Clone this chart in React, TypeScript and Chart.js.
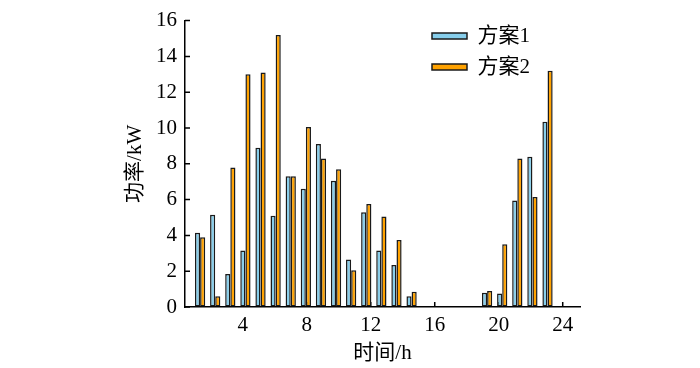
import React, { useEffect, useRef } from 'react';
import { Chart, registerables } from 'chart.js';

Chart.register(...registerables);

// ---- data ----
const hours = [1, 2, 3, 4, 5, 6, 7, 8, 9, 10, 11, 12, 13, 14, 15, 16, 17, 18, 19, 20, 21, 22, 23, 24];
const plan1 = [4.15, 5.15, 1.85, 3.15, 8.9, 5.1, 7.3, 6.6, 9.1, 7.05, 2.65, 5.3, 3.15, 2.35, 0.6, 0, 0, 0, 0, 0.8, 0.75, 5.95, 8.4, 10.35];
const plan2 = [3.9, 0.6, 7.8, 13.0, 13.1, 15.2, 7.3, 10.05, 8.3, 7.7, 2.05, 5.75, 5.05, 3.75, 0.85, 0, 0, 0, 0, 0.9, 3.5, 8.3, 6.15, 13.2];
const seriesNames = ['方案1', '方案2'];
const xTickValues = [4, 8, 12, 16, 20, 24];
const yTickStep = 2;
const yMax = 16;
const xTitle = '时间/h';
const yTitle = '功率/kW';

const FONT = '"Liberation Serif", "Noto Sans CJK SC", serif';
const BLUE = '#87CEEB';
const ORANGE = '#FFA200';
const EDGE = '#1a1a1a';

const innerTicks = {
  id: 'innerTicks',
  beforeDatasetsDraw(chart: any) {
    const ctx = chart.ctx;
    const y = chart.scales.y;
    const xt = chart.scales.xt;
    ctx.save();
    ctx.strokeStyle = '#000';
    ctx.lineWidth = 1.5;
    ctx.beginPath();
    y.ticks.forEach((t: any) => {
      const py = y.getPixelForValue(t.value);
      ctx.moveTo(y.right, py);
      ctx.lineTo(y.right + 5, py);
    });
    xt.ticks.forEach((t: any) => {
      const px = xt.getPixelForValue(t.value);
      ctx.moveTo(px, xt.top);
      ctx.lineTo(px, xt.top - 5);
    });
    ctx.stroke();
    ctx.restore();
  },
};

const placeLegend = {
  id: 'placeLegend',
  afterLayout(chart: any) {
    const lg = chart.legend;
    if (!lg) return;
    const w = lg.width;
    const h = lg.height;
    lg.left = chart.chartArea.right - 158;
    lg.top = chart.chartArea.top - 5;
    lg.right = lg.left + w;
    lg.bottom = lg.top + h;
  },
};

export default function App() {
  const ref = useRef<HTMLCanvasElement>(null);

  useEffect(() => {
    if (!ref.current) return;
    Chart.defaults.font.family = FONT;
    Chart.defaults.color = '#000';
    const chart = new Chart(ref.current, {
      type: 'bar',
      data: {
        datasets: [
          {
            label: seriesNames[0],
            data: hours.map((h, i) => ({ x: h, y: plan1[i] })),
            backgroundColor: BLUE,
            borderColor: EDGE,
            borderWidth: 1.5,
            borderSkipped: false,
            categoryPercentage: 0.68,
            barPercentage: 1,
            xAxisID: 'x',
            yAxisID: 'y',
          },
          {
            label: seriesNames[1],
            data: hours.map((h, i) => ({ x: h, y: plan2[i] })),
            backgroundColor: ORANGE,
            borderColor: EDGE,
            borderWidth: 1.5,
            borderSkipped: false,
            categoryPercentage: 0.68,
            barPercentage: 1,
            xAxisID: 'x',
            yAxisID: 'y',
          },
        ],
      },
      options: {
        responsive: false,
        animation: false,
        layout: { padding: { left: 117, right: 120, top: 13, bottom: 0 } },
        plugins: {
          tooltip: { enabled: false },
          legend: {
            position: 'chartArea',
            align: 'start',
            labels: {
              boxWidth: 35,
              boxHeight: 6,
              padding: 10,
              font: { size: 21, family: FONT },
              color: '#000',
            },
          },
        },
        scales: {
          x: {
            type: 'linear',
            display: false,
            min: 0,
            max: 26.15,
            offset: false,
          },
          xt: {
            type: 'linear',
            position: 'bottom',
            min: 0.39,
            max: 25.08,
            offset: false,
            afterBuildTicks: (s: any) => {
              s.ticks = xTickValues.map((v) => ({ value: v }));
            },
            grid: { display: true, drawOnChartArea: false, drawTicks: false, offset: false },
            border: { display: true, color: '#000', width: 1.5 },
            ticks: { font: { size: 21, family: FONT }, color: '#000', padding: 6, maxRotation: 0, autoSkip: false },
            title: { display: true, text: xTitle, font: { size: 21, family: FONT }, color: '#000', padding: { top: 0, bottom: 2 } },
            afterFit: (s: any) => {
              s.height = 61;
            },
          },
          y: {
            type: 'linear',
            min: 0,
            max: yMax,
            grid: { display: true, drawOnChartArea: false, drawTicks: false },
            border: { display: true, color: '#000', width: 1.5 },
            ticks: { stepSize: yTickStep, font: { size: 21, family: FONT }, color: '#000', padding: 8 },
            title: { display: true, text: yTitle, font: { size: 21, family: FONT }, color: '#000', padding: { top: 6, bottom: 4 } },
            afterFit: (s: any) => {
              s.width = 68;
            },
          },
        },
      } as any,
      plugins: [innerTicks, placeLegend],
    });
    return () => chart.destroy();
  }, []);

  return (
    <div style={{ position: 'fixed', left: 0, top: 0, width: 700, height: 368, background: '#fff' }}>
      <canvas ref={ref} width={700} height={368} style={{ display: 'block' }} />
    </div>
  );
}
